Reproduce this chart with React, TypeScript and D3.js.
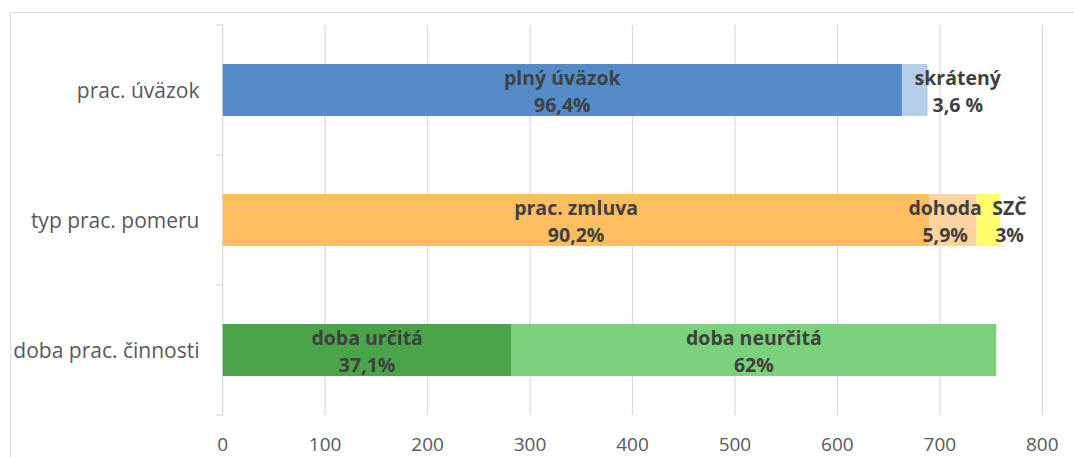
import * as d3 from 'd3'

// categories, top to bottom
const categories = ['prac. úväzok', 'typ prac. pomeru', 'doba prac. činnosti']

// segments per category (values in persons)
const segNames = [
  ['plný úväzok', 'skrátený'],
  ['prac. zmluva', 'dohoda', 'SZČ'],
  ['doba určitá', 'doba neurčitá'],
]
const segValues = [
  [663, 25],
  [690, 46, 23],
  [282, 473],
]
const segPercents = [
  ['96,4%', '3,6 %'],
  ['90,2%', '5,9%', '3%'],
  ['37,1%', '62%'],
]
const segColors = [
  ['#4a86c4', '#b2cbe7'],
  ['#fdba5a', '#fdd19a', '#ffff66'],
  ['#3f9f40', '#74cf75'],
]

const xTicks = [0, 100, 200, 300, 400, 500, 600, 700, 800]

const W = 1074
const H = 457

export default function App() {
  const x = d3.scaleLinear().domain([0, 800]).range([222.7, 1042.3])
  const y = d3.scaleBand<string>().domain(categories).range([25, 415]).paddingInner(0.6).paddingOuter(0.3)
  const yBand = d3.scaleBand<string>().domain(categories).range([25, 415])

  // manual nudges for small-segment labels (Excel moved them)
  const labelDx: Record<string, number> = { 'skrátený': 43, dohoda: -8, SZČ: 21 }

  const font = '"Open Sans", Lato, sans-serif'

  const bars = categories.map((cat, ci) => {
    const stack = d3.cumsum(segValues[ci])
    const y0 = y(cat) ?? 0
    const bh = y.bandwidth()
    const cy = y0 + bh / 2
    return (
      <g key={cat}>
        {segValues[ci].map((v, si) => {
          const start = si === 0 ? 0 : stack[si - 1]
          const x0 = x(start)
          const x1 = x(start + v)
          return (
            <rect key={si} x={x0} y={y0} width={x1 - x0} height={bh}
              fill={segColors[ci][si]} fillOpacity={0.95} />
          )
        })}
        {segValues[ci].map((v, si) => {
          const start = si === 0 ? 0 : stack[si - 1]
          const name = segNames[ci][si]
          const lx = x(start + v / 2) + (labelDx[name] ?? 0)
          return (
            <g key={'l' + si} style={{ fontFamily: font, fontWeight: 700, fontSize: 19.5, fill: '#404040' }}>
              <text x={lx} y={cy - 13} textAnchor="middle" dominantBaseline="central">{name}</text>
              <text x={lx} y={cy + 14} textAnchor="middle" dominantBaseline="central">{segPercents[ci][si]}</text>
            </g>
          )
        })}
      </g>
    )
  })

  return (
    <svg width={W} height={H} style={{ position: 'absolute', left: 0, top: 0, display: 'block', background: '#fff' }}>
      {/* chart border */}
      <rect x={10.5} y={12.5} width={W + 50} height={H + 50} fill="none" stroke="#d9d9d9" strokeWidth={1} />

      {/* gridlines */}
      {xTicks.slice(1).map(t => (
        <line key={t} x1={x(t)} x2={x(t)} y1={25} y2={415} stroke="#d9d9d9" strokeWidth={1.2} />
      ))}

      {/* category axis */}
      <line x1={x(0)} x2={x(0)} y1={25} y2={415} stroke="#d9d9d9" strokeWidth={1.2} />
      {[...categories.map(c => yBand(c) ?? 0), 415].map((v, i) => (
        <line key={i} x1={x(0) - 7} x2={x(0)} y1={v} y2={v} stroke="#d9d9d9" strokeWidth={1.2} />
      ))}

      {bars}

      {/* category labels */}
      {categories.map(c => (
        <text key={c} x={199.5} y={(yBand(c) ?? 0) + yBand.bandwidth() / 2} textAnchor="end" dominantBaseline="central"
          style={{ fontFamily: font, fontSize: 21, fill: '#595959' }}>{c}</text>
      ))}

      {/* value axis labels */}
      {xTicks.map(t => (
        <text key={t} x={x(t)} y={444} textAnchor="middle" dominantBaseline="central"
          style={{ fontFamily: font, fontSize: 19, fill: '#595959' }}>{t}</text>
      ))}
    </svg>
  )
}
